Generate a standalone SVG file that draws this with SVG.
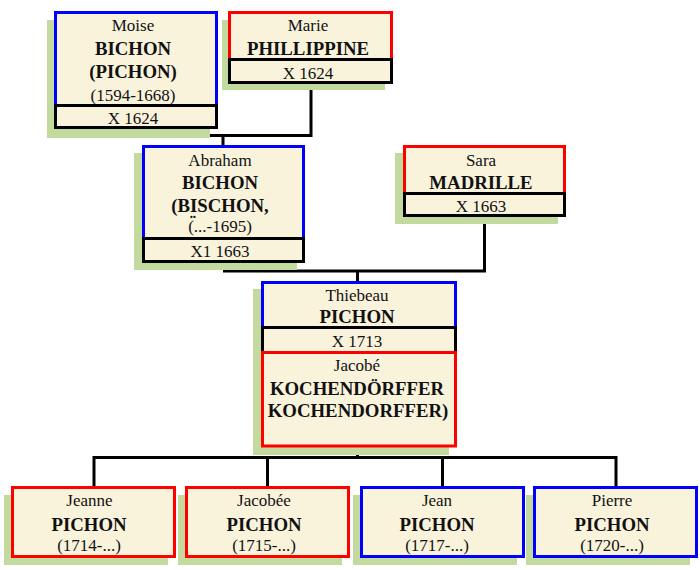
<svg xmlns="http://www.w3.org/2000/svg" width="700" height="570" viewBox="0 0 700 570">
<style>
.sh{fill:#C2DA9E;stroke:none}
.bx{fill:#FAF3DC;stroke-width:3}
.m{stroke:#0000FF}
.f{stroke:#FF0000}
.k{stroke:#000}
text{font-family:"Liberation Serif","Times New Roman",serif;fill:#111;text-anchor:middle}
.r{font-size:17px}
.b{font-size:18.8px;font-weight:bold}
.cn{fill:none;stroke:#000;stroke-width:3}
</style>
<rect width="700" height="570" fill="#fff"/>
<g id="connectors">
<path class="cn" d="M136.5,129 V135.5 H311 V84"/>
<path class="cn" d="M223,135.5 V145"/>
<path class="cn" d="M224.5,263 V271 H484.5 V217"/>
<path class="cn" d="M357.5,271 V281"/>
<path class="cn" d="M357.5,447 V457.5"/>
<path class="cn" d="M94,486 V457.5 H616 V486"/>
<path class="cn" d="M267.5,457.5 V486"/>
<path class="cn" d="M442.5,457.5 V486"/>
</g>
<g id="moise">
<rect class="sh" x="47" y="20" width="163" height="118"/>
<rect class="bx m" x="55.5" y="12.5" width="161" height="93"/>
<rect class="bx k" x="55.5" y="105.5" width="161" height="22"/>
<text class="r" x="133" y="31">Moise</text>
<text class="b" x="133" y="55">BICHON</text>
<text class="b" x="133" y="78">(PICHON)</text>
<text class="r" x="133" y="101">(1594-1668)</text>
<text class="r" x="133" y="124">X 1624</text>
</g>
<g id="marie">
<rect class="sh" x="222" y="20" width="163" height="70"/>
<rect class="bx f" x="229.5" y="12.5" width="162" height="47"/>
<rect class="bx k" x="229.5" y="59.5" width="162" height="23"/>
<text class="r" x="308" y="31">Marie</text>
<text class="b" x="308" y="55">PHILLIPPINE</text>
<text class="r" x="308" y="79">X 1624</text>
</g>
<g id="abraham">
<rect class="sh" x="134" y="153" width="163" height="117"/>
<rect class="bx m" x="143.5" y="146.5" width="160" height="92"/>
<rect class="bx k" x="143.5" y="238.5" width="160" height="23"/>
<text class="r" x="220" y="166">Abraham</text>
<text class="b" x="220" y="189">BICHON</text>
<text class="b" x="220" y="212">(BISCHON,</text>
<text class="b" x="193" y="229">¨</text>
<text class="r" x="220" y="232">(...-1695)</text>
<text class="r" x="220" y="257">X1 1663</text>
</g>
<g id="sara">
<rect class="sh" x="395" y="153" width="163" height="71"/>
<rect class="bx f" x="404.5" y="146.5" width="160" height="47"/>
<rect class="bx k" x="404.5" y="193.5" width="160" height="22"/>
<text class="r" x="481" y="166">Sara</text>
<text class="b" x="481" y="189">MADRILLE</text>
<text class="r" x="481" y="212">X 1663</text>
</g>
<g id="thiebeau">
<rect class="sh" x="253" y="289" width="196" height="166"/>
<rect class="bx m" x="262.5" y="282.5" width="193" height="45"/>
<rect class="bx k" x="262.5" y="327.5" width="193" height="25"/>
<rect class="bx f" x="262.5" y="352.5" width="193" height="93.5"/>
<text class="r" x="357" y="301">Thiebeau</text>
<text class="b" x="357" y="323">PICHON</text>
<text class="r" x="357" y="347">X 1713</text>
<text class="r" x="357" y="371">Jacobé</text>
<text class="b" x="357" y="395">KOCHENDÖRFFER</text>
<text class="b" x="358" y="417">KOCHENDORFFER)</text>
</g>
<g id="jeanne">
<rect class="sh" x="4" y="495" width="164" height="70"/>
<rect class="bx f" x="12.5" y="487.5" width="162" height="69"/>
<text class="r" x="89.5" y="506">Jeanne</text>
<text class="b" x="89" y="531">PICHON</text>
<text class="r" x="89" y="551">(1714-...)</text>
</g>
<g id="jacobee">
<rect class="sh" x="178" y="495" width="164" height="70"/>
<rect class="bx f" x="186.5" y="487.5" width="162" height="69"/>
<text class="r" x="264" y="506">Jacobée</text>
<text class="b" x="264" y="531">PICHON</text>
<text class="r" x="264" y="551">(1715-...)</text>
</g>
<g id="jean">
<rect class="sh" x="353" y="495" width="164" height="70"/>
<rect class="bx m" x="361.5" y="487.5" width="162" height="69"/>
<text class="r" x="437" y="506">Jean</text>
<text class="b" x="437" y="531">PICHON</text>
<text class="r" x="437" y="551">(1717-...)</text>
</g>
<g id="pierre">
<rect class="sh" x="526" y="495" width="164" height="70"/>
<rect class="bx m" x="534.5" y="487.5" width="162" height="69"/>
<text class="r" x="612" y="506">Pierre</text>
<text class="b" x="612" y="531">PICHON</text>
<text class="r" x="612" y="551">(1720-...)</text>
</g>
</svg>
